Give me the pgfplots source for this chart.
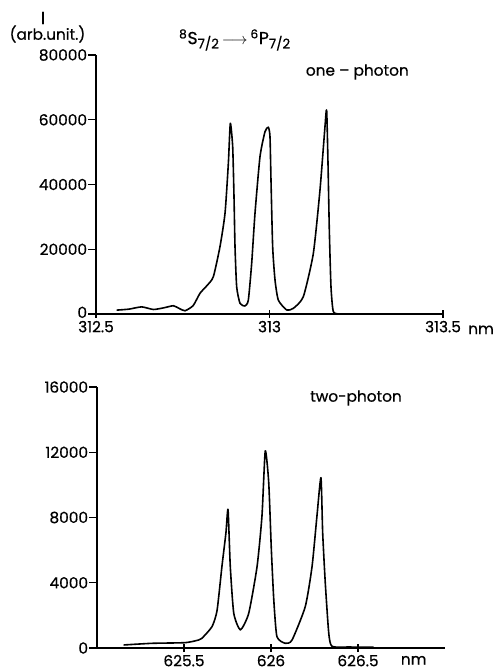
\documentclass[border=0pt]{standalone}
\usepackage{pgfplots}
\pgfplotsset{compat=1.18}
\usepackage{fontspec}
\setmainfont{Poppins}[FakeBold=0.6]

\pgfplotsset{
  spec/.style={
    scale only axis,
    axis lines=left,
    axis line style={line width=1.4pt,-},
    clip=false,
    tick align=outside,
    major tick length=6pt,
    tick style={line width=1.1pt,black},
    x tick style={yshift=3pt},
    ticklabel style={font=\fontsize{11.5}{12}\selectfont,
      /pgf/number format/assume math mode=true},
    yticklabel style={inner sep=0.5pt},
    xticklabel style={inner sep=0.5pt,yshift=1.5pt},
    scaled ticks=false,
    ymin=0,
  },
  curve/.style={black,line width=1.2pt,line join=round,no marks,smooth,tension=0.35},
}

\begin{document}
\begin{tikzpicture}[every node/.style={font=\fontsize{11.5}{12}\selectfont}]
\path[use as bounding box] (0,0) rectangle (373.5pt,504pt);

\node[font=\fontsize{13}{14}\selectfont] at (32.25pt,490.5pt) {I};
\node at (35.6pt,478.5pt) {(arb.unit.)};
\node[font=\fontsize{13}{14}\selectfont] at (176pt,474pt)
  {\textsuperscript{8}S\raisebox{-0.45ex}{\fontsize{10}{11}\selectfont 7/2}\,$\longrightarrow$\,\textsuperscript{6}P\raisebox{-0.45ex}{\fontsize{10}{11}\selectfont 7/2}};
\node at (268pt,450pt) {one -- photon};
\node at (267pt,205.5pt) {two-photon};

% one-photon
\begin{axis}[spec,
  at={(72pt,268.5pt)}, anchor=south west,
  width=260.25pt, height=194.25pt,
  xmin=312.5, xmax=313.5, ymax=80000,
  xtick={312.5,313,313.5}, xticklabels={312.5,313,313.5},
  ytick={0,20000,40000,60000,80000},
  yticklabels={\raisebox{2.5pt}{0},20000,40000,60000,80000},
]
\addplot[curve] coordinates {
(312.5596,1200) (312.5950,1500) (312.6316,2200) (312.6652,1400)
(312.6950,1900) (312.7229,2550) (312.7400,1700) (312.7565,1000)
(312.7800,2600) (312.7997,6400) (312.8200,8800) (312.8381,11500)
(312.8573,20800) (312.8718,31100) (312.8814,46500) (312.8871,58900)
(312.8939,51700) (312.8977,36200) (312.9006,20800) (312.9054,8400)
(312.9150,3300) (312.9294,2470) (312.9390,4300) (312.9486,15600)
(312.9582,31100) (312.9726,48600) (312.9870,56300) (312.9966,57700)
(313.0014,54800) (313.0043,41400) (313.0091,20800) (313.0159,10500)
(313.0254,4300) (313.0495,1240) (313.0687,1750) (313.0975,5350)
(313.1263,18700) (313.1455,38300) (313.1599,57900) (313.1647,63000)
(313.1686,46500) (313.1724,25900) (313.1772,8400) (313.1840,720)
(313.2032,0) (313.2127,0)
};
\node[anchor=west,inner sep=0pt] at (axis cs:313.572,-4900) {nm};
\end{axis}

% two-photon
\begin{axis}[spec,
  at={(72.75pt,18pt)}, anchor=south west,
  width=261pt, height=195.75pt,
  xmin=625, xmax=627, ymax=16000,
  xtick={625.5,626,626.5}, xticklabels={625.5,626,626.5},
  ytick={0,4000,8000,12000,16000},
  yticklabels={0,4000,8000,12000,16000},
]
\addplot[curve] coordinates {
(625.153,185) (625.316,287) (625.507,328) (625.584,490) (625.603,595)
(625.661,1310) (625.690,2300) (625.718,5000) (625.741,7060) (625.753,8490)
(625.766,5000) (625.786,2130) (625.824,1110) (625.872,2130) (625.920,5000)
(625.948,8080) (625.967,12080) (625.987,10130) (626.002,6030) (626.016,2950)
(626.034,700) (626.082,290) (626.121,490) (626.197,2540) (626.236,5000)
(626.264,8080) (626.287,10440) (626.297,7060) (626.312,3980) (626.332,900)
(626.351,100) (626.450,60) (626.590,50)
};
\node[anchor=center,inner sep=0pt] at (axis cs:626.82,-750) {nm};
\end{axis}
\end{tikzpicture}
\end{document}
